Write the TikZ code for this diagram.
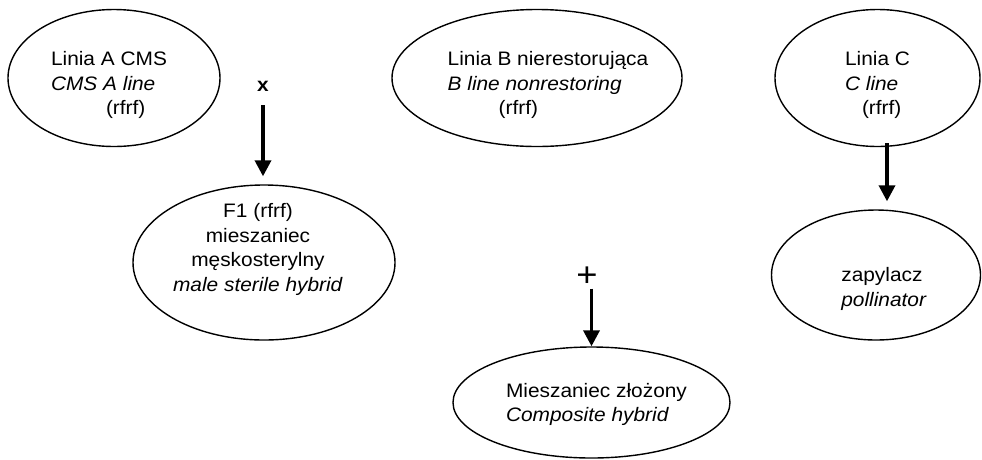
\documentclass[tikz,border=0pt]{standalone}
\usepackage{fontspec}
\setmainfont{Liberation Sans}[FakeStretch=1.07]
\usetikzlibrary{arrows.meta,shapes.geometric}
\tikzstyle{every node}=[font=\fontsize{19.5}{24.5}\selectfont]
\tikzstyle{cell}=[ellipse,
                  draw=black,
                  line width=1.4pt,
                  inner sep=0pt
                  ]
\tikzstyle{txt}=[inner sep=0pt,align=left]
\tikzstyle{flow}=[line width=3.5pt,
                  -{Triangle[width=16pt,length=16pt]}
                  ]
\begin{document}
\begin{tikzpicture}[x=1pt,y=-1pt]
\useasboundingbox (0,0) rectangle (982,459);
% parent lines
\node (lineA) [cell,minimum width=212pt,minimum height=137pt] at (114,78) {};
\node (lineB) [cell,minimum width=290pt,minimum height=137pt] at (537,78) {};
\node (lineC) [cell,minimum width=205pt,minimum height=137pt] at (877.5,78) {};
\node (textA) [txt,xshift=-5pt,yshift=-7pt] at (lineA)
  {Linia A CMS\\\textit{CMS A line}\\\hspace*{55pt}(rfrf)};
\node (textB) [txt,xshift=11pt,yshift=-7pt] at (lineB)
  {Linia B nierestorująca\\\textit{B line nonrestoring}\\\hspace*{51pt}(rfrf)};
\node (textC) [txt,yshift=-7pt] at (lineC)
  {Linia C\\\textit{C line}\\\hspace*{17pt}(rfrf)};
% offspring
\node (hybridF) [cell,minimum width=262pt,minimum height=155pt] at (264,262.5) {};
\node (pollinator) [cell,minimum width=209pt,minimum height=130pt] at (876,275) {};
\node (composite) [cell,minimum width=277pt,minimum height=111pt] at (591.5,402.5) {};
\node (textF) [txt,align=center,xshift=-6pt,yshift=13pt] at (hybridF)
  {F1 (rfrf)\\mieszaniec\\męskosterylny\\\textit{male sterile hybrid}};
\node (textP) [txt,xshift=8pt,yshift=-14pt] at (pollinator)
  {zapylacz\\\textit{pollinator}};
\node (textM) [txt,xshift=5pt,yshift=-2pt] at (composite)
  {Mieszaniec złożony\\\textit{Composite hybrid}};
% crossing marks
\node (crossA) [inner sep=0pt] at (263,86) {\textbf{x}};
\node (plusB) [inner sep=0pt,font=\fontsize{34}{34}\selectfont] at (587,276.5) {+};
\coordinate (tailC) at (887,143);
 \draw[flow,shorten <=14pt,shorten >=8pt] (crossA.south) -- (crossA.south |- hybridF.north);
 \draw[flow,shorten >=8pt] (tailC) -- (tailC |- pollinator.north);
 \draw[flow,shorten <=2pt] (composite.north |- plusB.south) -- (composite.north);
\end{tikzpicture}
\end{document}
